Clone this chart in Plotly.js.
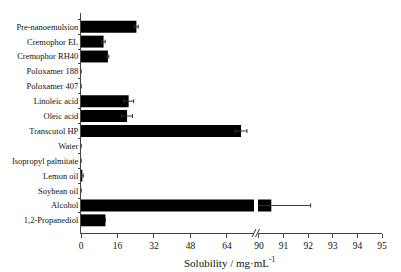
<!DOCTYPE html>
<html>
<head>
<meta charset="utf-8">
<script src="https://cdn.plot.ly/plotly-3.0.1.min.js"></script>
<style>html,body{margin:0;padding:0;background:#fff;}#chart{width:401px;height:272px;}</style>
</head>
<body>
<div id="chart"></div>
<script>
const categories = ["Pre-nanoemulsion","Cremophor EL","Cremophor RH40","Poloxamer 188","Poloxamer 407","Linoleic acid","Oleic acid","Transcutol HP","Water","Isopropyl palmitate","Lemon oil","Soybean oil","Alcohol","1,2-Propanediol"];
const solubility = [24.3, 9.9, 11.8, 0, 0, 20.9, 20.2, 70.2, 0, 0, 0.6, 0, 90.5, 10.7];
const errors = [0.8, 0.7, 0.4, 0, 0, 2.2, 2.4, 2.6, 0, 0, 0.4, 0, 1.6, 0];
const lowTicks = [0, 16, 32, 48, 64];
const highTicks = [90, 91, 92, 93, 94, 95];
const axisBreak = 76;

const serif = "Liberation Serif, Times New Roman, serif";
const W = 401, H = 272, L = 81, R = 19, T = 13, B = 39;
const pw = W - L - R, ph = H - T - B;
const px = x => (x - L) / pw;
const py = y => (H - B - y) / ph;

const lowErr = errors.map((e, i) => (e > 0 && solubility[i] <= axisBreak) ? e : null);
const highX = solubility.map(v => v > axisBreak ? v : null);
const highErr = errors.map((e, i) => (e > 0 && solubility[i] > axisBreak) ? e : null);

const traces = [
  {type: 'bar', orientation: 'h', y: categories, x: solubility, xaxis: 'x', yaxis: 'y',
   width: 0.8, marker: {color: '#000'},
   error_x: {type: 'data', array: lowErr, visible: true, color: '#333', thickness: 1, width: 2},
   hoverinfo: 'none'},
  {type: 'bar', orientation: 'h', y: categories, x: highX, xaxis: 'x2', yaxis: 'y',
   width: 0.8, marker: {color: '#000'},
   error_x: {type: 'data', array: highErr, visible: true, color: '#333', thickness: 1, width: 2},
   hoverinfo: 'none'}
];

const brk = (x0) => ({type: 'line', xref: 'paper', yref: 'paper',
  x0: px(x0 - 2), x1: px(x0 + 2), y0: py(237), y1: py(229),
  line: {color: '#333', width: 1}});

const txt = '#111';
const layout = {
  width: W, height: H,
  margin: {l: L, r: R, t: T, b: B, pad: 0},
  paper_bgcolor: '#fff', plot_bgcolor: '#fff',
  showlegend: false,
  barmode: 'overlay',
  font: {family: serif, color: txt, size: 9},
  xaxis: {domain: [0, px(254)], range: [0, (254 - L) / 2.28], tickvals: lowTicks,
    showline: true, linecolor: '#444', linewidth: 1, ticks: 'outside', ticklen: 4,
    tickcolor: '#444', showgrid: false, zeroline: false, tickfont: {family: serif, size: 9.5, color: txt}},
  xaxis2: {domain: [px(258), 1], range: [89.96, 95], tickvals: highTicks, anchor: 'y',
    showline: true, linecolor: '#444', linewidth: 1, ticks: 'outside', ticklen: 4,
    tickcolor: '#444', showgrid: false, zeroline: false, tickfont: {family: serif, size: 9.5, color: txt}},
  yaxis: {type: 'category', range: [13.85, -0.92], showline: true, linecolor: '#444', linewidth: 1,
    ticks: 'outside', ticklen: 2, tickcolor: '#444', tickson: 'boundaries', showgrid: false,
    zeroline: false, tickfont: {family: serif, size: 8.5, color: txt}},
  annotations: [{xref: 'paper', yref: 'paper', x: px(230), y: py(262), xanchor: 'center', yanchor: 'middle',
    text: 'Solubility / mg·mL<sup>-1</sup>', showarrow: false, font: {family: serif, size: 11, color: txt}}],
  shapes: [brk(254), brk(257.5)]
};

Plotly.newPlot('chart', traces, layout, {displayModeBar: false, staticPlot: true});
</script>
</body>
</html>
